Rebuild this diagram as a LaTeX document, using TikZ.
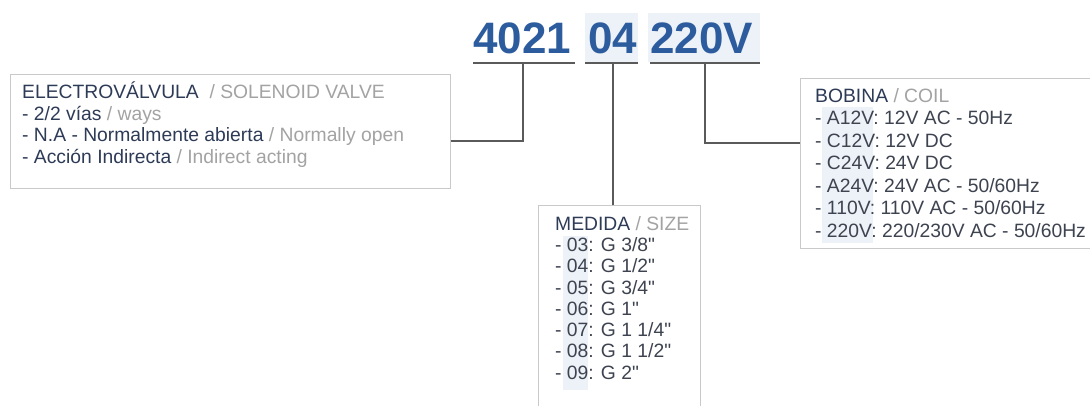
\documentclass[tikz,border=0pt]{standalone}
\usepackage{fontspec}
\setmainfont{Liberation Sans}[Ligatures=TeXOff]
\usetikzlibrary{calc}
\definecolor{codeblue}{HTML}{2D5C9E}
\definecolor{esblue}{HTML}{2E3B57}
\definecolor{engray}{HTML}{A3A3A3}
\definecolor{itemgray}{HTML}{3E4350}
\definecolor{hilite}{HTML}{EDF2F8}
\definecolor{framegray}{HTML}{C9C9C9}
\definecolor{linegray}{HTML}{5A5A5A}
\newcommand{\es}[1]{\textcolor{esblue}{#1}}
\newcommand{\en}[1]{\textcolor{engray}{#1}}

\begin{document}
\begin{tikzpicture}[x=1pt,y=-1pt,
    code/.style={font=\fontsize{44}{44}\selectfont\bfseries, text=codeblue, inner sep=0pt, anchor=base west},
    infobox/.style={draw=framegray, line width=1.2pt, anchor=north west, inner sep=0pt},
    infotext/.style={font=\fontsize{19.3}{21.5}\selectfont, align=left, anchor=north west, inner sep=0pt, text=itemgray},
    link/.style={draw=linegray, line width=1.3pt},
    bar/.style={draw=linegray, line width=2pt}]
            \clip (0,0) rectangle (1090,405);
            \fill[white] (0,0) rectangle (1090,405);

            \fill[hilite] (585,13) rectangle (638,62);
            \fill[hilite] (648,13) rectangle (760,62);
            \node[code] (body) at (473,53) {4021};
            \node[code] (size) at (588,53) {04};
            \node[code] (coil) at (650,53) {220V};
            \draw[bar] (473,63) -- (575,63);
            \draw[bar] (585,63) -- (638,63);
            \draw[bar] (650,63) -- (760,63);
            \coordinate (bodytap) at (523,63);
            \coordinate (sizetap) at (613,63);
            \coordinate (coiltap) at (705,63);

            \node[infobox, minimum width=440, minimum height=114] (valve) at (10,74) {};
            \node[infobox, minimum width=162, minimum height=220] (measure) at (538,205) {};
            \node[infobox, minimum width=300, minimum height=170] (winding) at (800,78) {};

            \fill[hilite] (563,236) rectangle (588,390);
            \fill[hilite] (822,107) rectangle (873,243);

            \node[infotext] (valvetext) at ([shift={(12,8)}]valve.north west)
                {\es{ELECTROVÁLVULA}\ \ \en{/ SOLENOID VALVE}\\
                 \es{- 2/2 vías} \en{/ ways}\\
                 \es{- N.A - Normalmente abierta} \en{/ Normally open}\\
                 \es{- Acción Indirecta} \en{/ Indirect acting}};
            \node[infotext, font=\fontsize{19.3}{21.3}\selectfont] (measuretext) at ([shift={(17,11)}]measure.north west)
                {\es{MEDIDA} \en{/ SIZE}\\
                 - 03: G 3/8"\\
                 - 04: G 1/2"\\
                 - 05: G 3/4"\\
                 - 06: G 1"\\
                 - 07: G 1 1/4"\\
                 - 08: G 1 1/2"\\
                 - 09: G 2"};
            \node[infotext, font=\fontsize{19.3}{22.5}\selectfont] (windingtext) at ([shift={(15,10)}]winding.north west)
                {\es{BOBINA} \en{/ COIL}\\
                 - A12V: 12V AC - 50Hz\\
                 - C12V: 12V DC\\
                 - C24V: 24V DC\\
                 - A24V: 24V AC - 50/60Hz\\
                 - 110V: 110V AC - 50/60Hz\\
                 - 220V: 220/230V AC - 50/60Hz};

            \draw[link] (bodytap) |- (valve.east |- 0,141);
            \draw[link] (sizetap) -- (measure.north -| sizetap);
            \draw[link] (coiltap) |- (winding.west |- 0,143);
        \end{tikzpicture}
\end{document}
